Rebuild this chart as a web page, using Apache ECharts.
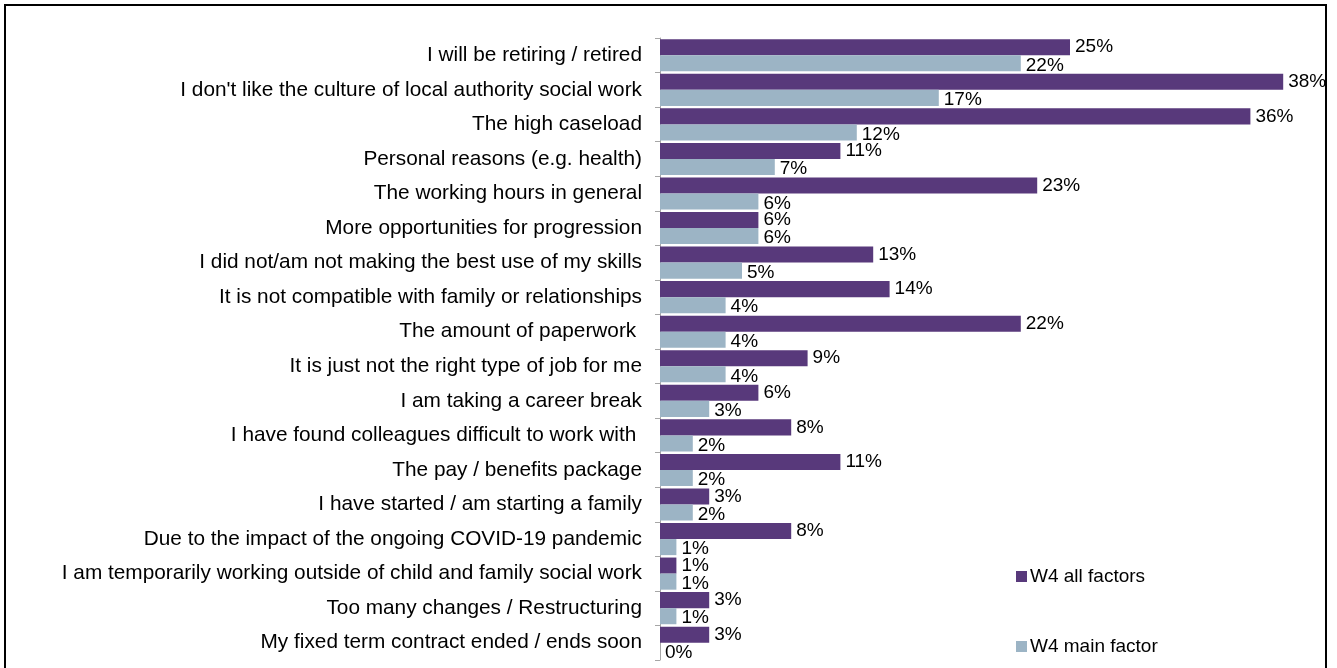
<!DOCTYPE html>
<html>
<head>
<meta charset="utf-8">
<script src="https://cdn.jsdelivr.net/npm/echarts@6/dist/echarts.min.js"></script>
<style>
  html, body { margin: 0; padding: 0; background: #fff; }
  #chart { width: 1337px; height: 668px; }
</style>
</head>
<body>
<div id="chart"></div>
<script>
// 类目
var categories = [
    'I will be retiring / retired',
    "I don't like the culture of local authority social work",
    'The high caseload',
    'Personal reasons (e.g. health)',
    'The working hours in general',
    'More opportunities for progression',
    'I did not/am not making the best use of my skills',
    'It is not compatible with family or relationships',
    'The amount of paperwork ',
    'It is just not the right type of job for me',
    'I am taking a career break',
    'I have found colleagues difficult to work with ',
    'The pay / benefits package',
    'I have started / am starting a family',
    'Due to the impact of the ongoing COVID-19 pandemic',
    'I am temporarily working outside of child and family social work',
    'Too many changes / Restructuring',
    'My fixed term contract ended / ends soon'
];
// W4 all factors
var allFactors = [25, 38, 36, 11, 23, 6, 13, 14, 22, 9, 6, 8, 11, 3, 8, 1, 3, 3];
// W4 main factor
var mainFactor = [22, 17, 12, 7, 6, 6, 5, 4, 4, 4, 3, 2, 2, 2, 1, 1, 1, 0];
var seriesNames = ['W4 all factors', 'W4 main factor'];

var chart = echarts.init(document.getElementById('chart'));
var font = 'Liberation Sans, Arial, sans-serif';

function barLabel(offsetY) {
    return {
        show: true,
        position: 'right',
        distance: 5,
        offset: [0, offsetY],
        color: '#000',
        fontSize: 19,
        fontFamily: font,
        formatter: '{c}%'
    };
}

var option = {
    animation: false,
    backgroundColor: '#fff',
    textStyle: { fontFamily: font },
    graphic: [{
        type: 'rect',
        shape: { x: 5, y: 5, width: 1321, height: 670 },
        style: { fill: 'none', stroke: '#000', lineWidth: 2 },
        silent: true
    }],
    legend: {
        orient: 'vertical',
        left: 1011,
        top: 562,
        itemWidth: 11,
        itemHeight: 11,
        itemGap: 51,
        icon: 'rect',
        textStyle: { fontSize: 19, color: '#000', fontFamily: font, padding: [0, 0, 0, -2] },
        data: seriesNames
    },
    grid: {
        left: 660,
        right: 21,
        top: 38,
        bottom: 8,
        containLabel: false
    },
    xAxis: {
        type: 'value',
        min: 0,
        max: 40,
        show: false
    },
    yAxis: {
        type: 'category',
        inverse: true,
        data: categories,
        axisLine: { show: true, lineStyle: { color: '#a6a6a6', width: 1 } },
        axisTick: { show: true, length: 5, lineStyle: { color: '#a6a6a6' } },
        axisLabel: { color: '#000', fontSize: 20.8, fontFamily: font, margin: 18 },
        splitLine: { show: false }
    },
    series: [{
        name: seriesNames[0],
        type: 'bar',
        data: allFactors,
        barGap: '0%',
        barCategoryGap: '7%',
        itemStyle: { color: '#58397b' },
        label: barLabel(0)
    }, {
        name: seriesNames[1],
        type: 'bar',
        data: mainFactor,
        barGap: '0%',
        barCategoryGap: '7%',
        itemStyle: { color: '#9cb4c5' },
        label: barLabel(2)
    }]
};
chart.setOption(option);

window.addEventListener('resize', function () {
    chart.resize();
});
</script>
</body>
</html>
